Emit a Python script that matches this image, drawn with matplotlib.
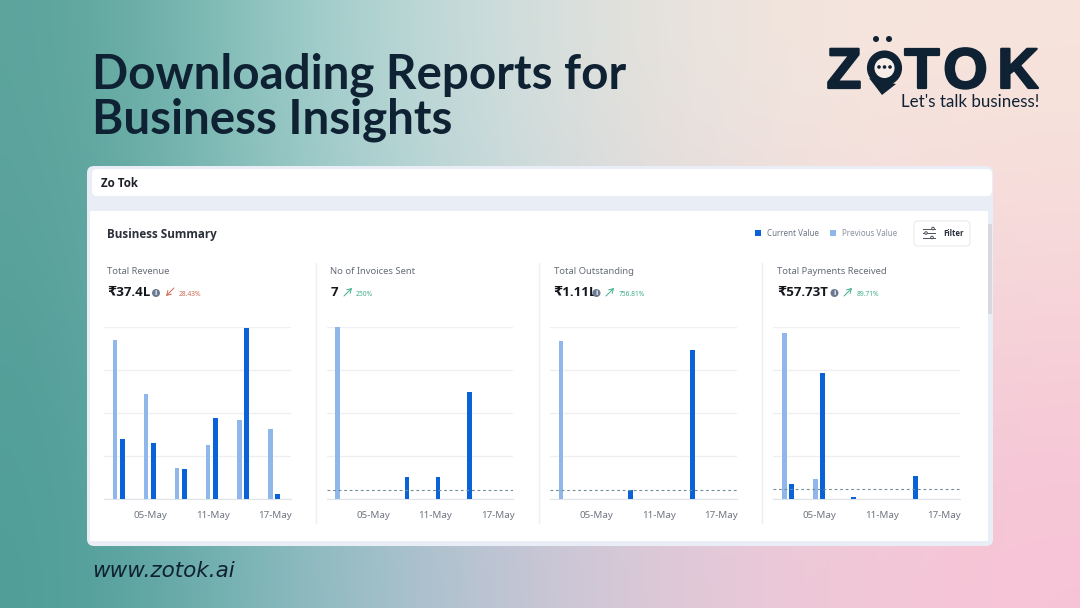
import numpy as np
import matplotlib
matplotlib.use("Agg")
import matplotlib.pyplot as plt
import matplotlib.patheffects as pe
from matplotlib.patches import FancyBboxPatch, Rectangle, Circle, Polygon

# chart values, % of the axis height of each small chart
dates = ["02-May", "05-May", "08-May", "11-May", "14-May", "17-May"]
tick_labels = ["", "05-May", "", "11-May", "", "17-May"]

revenue_prev = [92.6, 61.1, 18.1, 31.1, 46.1, 40.5]
revenue_cur = [34.6, 32.3, 17.1, 46.9, 99.4, 2.9]
invoices_prev = [100, 0, 0, 0, 0, 0]
invoices_cur = [0, 0, 12.5, 12.5, 62.5, 0]
outstanding_prev = [92.2, 0, 0, 0, 0, 0]
outstanding_cur = [0, 0, 5.3, 0, 87.0, 0]
payments_prev = [96.9, 11.5, 0, 0, 0, 0]
payments_cur = [8.4, 73.2, 1.2, 0, 13.0, 0]

titles = ["Total Revenue", "No of Invoices Sent", "Total Outstanding", "Total Payments Received"]
totals = ["₹37.4L", "7", "₹1.11L", "₹57.73T"]
changes = ["28.43%", "250%", "756.81%", "89.71%"]
dash_levels = [None, 5, 5, 5.4]

CUR = "#0a62d8"
PREV = "#90b7ea"
DARK = "#0f2233"
SANS = ["Noto Sans", "DejaVu Sans"]
BOLD = ["Open Sans", "DejaVu Sans"]

W, H = 1080, 608
fig = plt.figure(figsize=(W / 100, H / 100), dpi=100)

# page, drawn in pixels
bg = fig.add_axes([0, 0, 1, 1])
bg.axis("off")

hexes = [
    ["#5aa39b", "#93c8c4", "#c6dcdc", "#e4e2dd", "#f5e6de", "#f7e4dc"],
    ["#569f99", "#8cc2c1", "#bcd3d8", "#dcd8dc", "#f1d9dc", "#f6d4d9"],
    ["#4f9d97", "#82b9bb", "#b4c2d2", "#d9c8d8", "#f0c8d8", "#f7c3d6"],
]
grad = np.array([[matplotlib.colors.to_rgb(c) for c in row] for row in hexes])
bg.imshow(grad, extent=(0, W, H, 0), aspect="auto", interpolation="bicubic", zorder=0)
bg.set_xlim(0, W)
bg.set_ylim(H, 0)

# heading
bg.text(92, 75, "Downloading Reports for", fontsize=34.2, fontweight="bold", family="Lato",
        color=DARK, va="center")
bg.text(92, 120, "Business Insights", fontsize=34.2, fontweight="bold", family="Lato",
        color=DARK, va="center")
bg.text(92, 571, "www.zotok.ai", fontsize=15.5, style="italic", family="DejaVu Sans",
        color=DARK, va="center")

# logo
heavy = [pe.withStroke(linewidth=1.6, foreground=DARK)]
for ch, x in [("Z", 844), ("T", 922), ("O", 965.5), ("K", 1018)]:
    bg.text(x, 88, ch, fontsize=41, fontweight="bold", family="Liberation Sans", color=DARK,
            ha="center", va="baseline", path_effects=heavy)
bg.add_patch(Polygon([[869, 78], [896, 84], [882, 95]], fc=DARK, ec="none", zorder=3))
bg.add_patch(Circle((884.5, 68), 13.8, fc="#f7eee9", ec=DARK, lw=5.4, zorder=3))
for dx in (-5.5, 0, 5.5):
    bg.add_patch(Circle((884.5 + dx, 67), 1.8, fc=DARK, ec="none", zorder=4))
for x in (876, 889):
    bg.add_patch(Circle((x, 39), 3, fc=DARK, ec="none"))
bg.text(1039, 102, "Let's talk business!", fontsize=12.2, family=["Lato", "DejaVu Sans"],
        color=DARK, ha="right", va="center")


def card(x0, y0, x1, y1, r, fc, ec="none", z=1):
    bg.add_patch(FancyBboxPatch((x0 + r, y0 + r), x1 - x0 - 2 * r, y1 - y0 - 2 * r,
                                boxstyle="round,pad=%f,rounding_size=%f" % (r, r),
                                fc=fc, ec=ec, lw=0.8, zorder=z))


card(87, 166, 993, 546, 7, "#e9edf5")
card(92, 169, 992, 196, 5, "white", z=2)
bg.add_patch(Rectangle((90, 211), 898, 330, fc="white", ec="none", zorder=2))
bg.add_patch(Rectangle((988, 224), 4, 90, fc="#d6d8de", ec="none", zorder=2))

bg.text(101, 183.5, "Zo Tok", fontsize=8.3, fontweight="bold", family=BOLD, color="#1b1f27",
        va="center", zorder=5)
bg.text(107, 234.5, "Business Summary", fontsize=8.4, fontweight="bold", family=BOLD, color="#2a2f3a",
        va="center", zorder=5)

# legend and filter
bg.add_patch(Rectangle((755, 230), 6, 6, fc=CUR, ec="none", zorder=5))
bg.text(767, 234, "Current Value", fontsize=5.8, family=SANS, color="#6d7685", va="center", zorder=5)
bg.add_patch(Rectangle((830, 230), 6, 6, fc=PREV, ec="none", zorder=5))
bg.text(842, 234, "Previous Value", fontsize=5.8, family=SANS, color="#8a92a0", va="center", zorder=5)
card(914, 221, 970, 246, 4, "white", ec="#e8eaee", z=3)
for y, knob in [(228.5, 933), (233, 926), (237.5, 932)]:
    bg.plot([923, 935], [y, y], color="#4a4f58", lw=0.7, zorder=5)
    bg.add_patch(Circle((knob, y), 1.3, fc="white", ec="#4a4f58", lw=0.7, zorder=6))
bg.text(943, 234, "Filter", fontsize=5.6, fontweight="bold", family=BOLD, color="#2a2f3a",
        va="center", zorder=5)

# dividers between charts
for x in (316, 539, 762):
    bg.plot([x, x], [263, 523], color="#eceef2", lw=1, zorder=3)

prev_series = [revenue_prev, invoices_prev, outstanding_prev, payments_prev]
cur_series = [revenue_cur, invoices_cur, outstanding_cur, payments_cur]
lefts = [104, 326.7, 550, 773.3]
text_x = [107, 330.5, 553.5, 777]
icon_x = [156, None, 596.5, 834.5]
arrow_x = [166, 344, 606, 844]
change_x = [179, 356, 619, 857]

for i in range(4):
    # header of each chart
    bg.text(text_x[i], 271, titles[i], fontsize=6.8, family=SANS, color="#666d78",
            va="center", zorder=5)
    bg.text(text_x[i], 292, totals[i], fontsize=9.5, fontweight="bold", family=BOLD, color="#14171c",
            va="center", zorder=5)
    if icon_x[i] is not None:
        bg.add_patch(Circle((icon_x[i], 293), 4, fc="#6b7a90", ec="none", zorder=5))
        bg.text(icon_x[i], 293.5, "i", fontsize=5, fontweight="bold", color="white", family=BOLD,
                ha="center", va="center", zorder=6)
    down = changes[i] == "28.43%"
    col = "#cf6a50" if down else "#3fae8c"
    ax0, ay0 = arrow_x[i], 288
    start, end = ((ax0 + 8, ay0), (ax0, ay0 + 8)) if down else ((ax0, ay0 + 8), (ax0 + 8, ay0))
    bg.annotate("", xy=end, xytext=start, zorder=5,
                arrowprops=dict(arrowstyle="->,head_length=0.3,head_width=0.18", color=col, lw=0.7,
                                shrinkA=0, shrinkB=0))
    bg.text(change_x[i], 294.5, changes[i], fontsize=4.8, family=SANS, color=col, va="center", zorder=5)

    # the chart
    ax = fig.add_axes([lefts[i] / W, 1 - 498.7 / H, 186.5 / W, 171.4 / H])
    ax.patch.set_alpha(0)
    x = np.arange(len(dates))
    ax.bar(x - 0.15, prev_series[i], width=0.15, color=PREV, zorder=3)
    ax.bar(x + 0.085, cur_series[i], width=0.15, color=CUR, zorder=3)
    ax.set_xlim(-0.5, 5.5)
    ax.set_ylim(0, 100)
    ax.set_yticks([0, 25, 50, 75, 100])
    ax.set_yticklabels([])
    ax.grid(axis="y", color="#edeff2", lw=0.9, zorder=0)
    ax.set_xticks(x)
    ax.set_xticklabels(tick_labels, fontsize=7, family=SANS, color="#6f7580")
    ax.tick_params(axis="x", length=0, pad=8.5)
    ax.tick_params(axis="y", length=0)
    for side in ("top", "right", "left"):
        ax.spines[side].set_visible(False)
    ax.spines["bottom"].set_color("#dfe3ea")
    if dash_levels[i] is not None:
        ax.axhline(dash_levels[i], color="#6f8f98", lw=0.8, ls=(0, (2.5, 2.5)), zorder=4)

fig.savefig("out.png", dpi=100)
